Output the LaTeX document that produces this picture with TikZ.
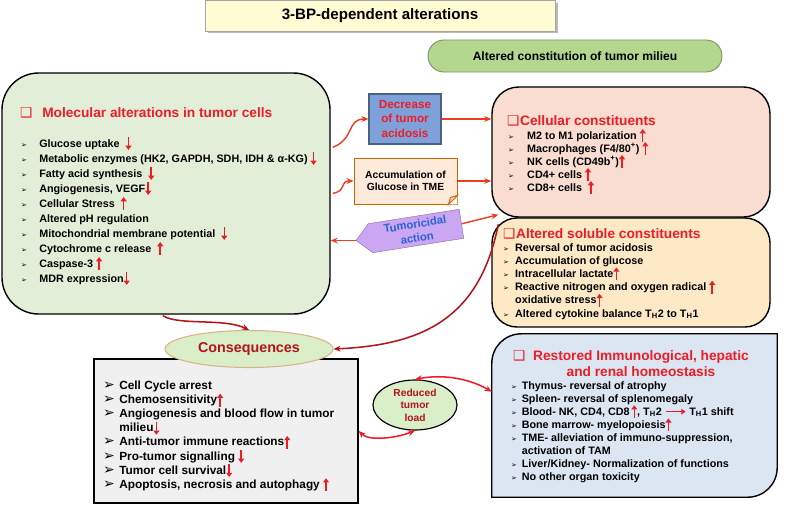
\documentclass[tikz,border=0pt]{standalone}
\usepackage{fontspec}
\setmainfont{Liberation Sans}
\newfontfamily\dejavu{DejaVu Sans}
\usetikzlibrary{arrows.meta,positioning,fit,calc,shapes.geometric,shapes.symbols}

\definecolor{molgreen}{HTML}{E3EED9}
\definecolor{cellpink}{HTML}{F9DDD0}
\definecolor{solyel}{HTML}{FDE9C6}
\definecolor{restblue}{HTML}{DCE6F2}
\definecolor{consgray}{HTML}{F0F0F0}
\definecolor{hdred}{HTML}{EE1C25}
\definecolor{darkred}{HTML}{B3131B}
\definecolor{orred}{HTML}{EA3F1F}
\definecolor{pillgreen}{HTML}{B4D78F}
\definecolor{ellgreen}{HTML}{DAEFC8}
\definecolor{decblue}{HTML}{7FA1D9}
\definecolor{accpeach}{HTML}{FDEADA}
\definecolor{tumpurple}{HTML}{CBA6F2}
\definecolor{tumblue}{HTML}{2A62D6}
\definecolor{titleyel}{HTML}{FFFBD2}

\tikzset{redarr/.style={draw=hdred,line width=1.3pt,-{Triangle[length=3.6pt,width=5pt]}}}
\newcommand{\uparr}{\tikz[baseline=0pt,x=1pt,y=1pt]\draw[redarr](0,-2.5)--(0,8.5);}
\newcommand{\dnarr}{\tikz[baseline=0pt,x=1pt,y=1pt]\draw[redarr](0,8.5)--(0,-2.5);}
\newcommand{\rtarr}{\tikz[baseline=0pt,x=1pt,y=1pt]\draw[redarr](0,3)--(17,3);}

\newlength\bltw
\newcommand\bltfont{\fontsize{6}{6}\selectfont}
\newcommand{\blt}{\makebox[\bltw][l]{\dejavu\bltfont ➢}}
\newcommand{\nob}{\hspace*{\bltw}}
\newcommand{\sqb}[1]{\makebox[#1][l]{\dejavu\color{hdred}❑}}

\begin{document}
\begin{tikzpicture}[x=0.03cm,y=-0.03cm,
  box/.style={draw,line width=1.2pt,inner sep=0pt},
  item/.style={anchor=base west,inner sep=0pt,font=\bfseries\fontsize{9.2}{11}\selectfont},
  head/.style={anchor=base west,inner sep=0pt,text=hdred,font=\bfseries\fontsize{11.7}{14}\selectfont},
  link/.style={orred,line width=1.2pt,-{Stealth[length=6pt,width=5pt]}},
  darklink/.style={darkred,line width=1.3pt,-{Stealth[length=6pt,width=5pt]}},
  bothlink/.style={hdred,line width=1.3pt,{Stealth[length=6pt,width=5pt]}-{Stealth[length=6pt,width=5pt]}}]
\useasboundingbox (0,0) rectangle (789,505);

% headings
\fill[gray!55] (208,3) rectangle (558,33);
\node[minimum width=10.5cm,minimum height=0.93cm,inner sep=0pt,draw=gray!70,fill=titleyel,line width=0.8pt,
  font=\bfseries\fontsize{12.9}{15}\selectfont] (title) at (380,15.5) {3-BP-dependent alterations};
\node[minimum width=8.82cm,minimum height=0.96cm,inner sep=0pt,draw=pillgreen!70!black,fill=pillgreen,
  rounded corners=0.48cm,line width=0.8pt,font=\bfseries\fontsize{10.3}{12}\selectfont] (milieu) at (575,56) {Altered constitution of tumor milieu};

% molecular alterations
\node[box,fit={(2,73) (330,314)},fill=molgreen,rounded corners=1.1cm] (mol) {};
\node[head] (molhd) at (20,117) {\sqb{18.8pt}Molecular alterations in tumor cells};
\setlength\bltw{15.4pt}
\foreach \txt [count=\i] in {{Glucose uptake \ \dnarr},
  {Metabolic enzymes (HK2, GAPDH, SDH, IDH \& α-KG) \dnarr},
  {Fatty acid synthesis \ \dnarr}, {Angiogenesis, VEGF\dnarr},
  {Cellular Stress \ \uparr}, {Altered pH regulation},
  {Mitochondrial membrane potential \ \dnarr}, {Cytochrome c release \ \uparr},
  {Caspase-3 \uparr}, {MDR expression\dnarr}}
  \node[item] (m\i) at (21,{132+15*\i}) {\blt\txt};

% middle boxes
\node[minimum width=2.16cm,minimum height=1.5cm,inner sep=0pt,draw=decblue!60!black,fill=decblue,line width=1pt,
  text=hdred,align=center,font=\bfseries\fontsize{10}{12}\selectfont] (dec) at (405,119) {Decrease\\of tumor\\acidosis};
\node[minimum width=3.09cm,minimum height=1.38cm,inner sep=0pt,draw=orange!80!black,fill=accpeach,line width=0.8pt,
  align=center,font=\bfseries\fontsize{8.8}{10.3}\selectfont] (acc) at (405.5,181) {Accumulation of\\Glucose in TME};
\fill[white] ($(acc.south east)+(0,-9)$) -- (acc.south east) -- ($(acc.south east)+(-9,0)$) -- cycle;
\draw[orange!80!black,fill=accpeach!80!brown,line width=0.8pt] ($(acc.south east)+(0,-9)$) -- ($(acc.south east)+(-9,0)$) -- ($(acc.south east)+(-7,-7)$) -- cycle;
\node[signal,signal to=west,rotate=9,draw=tumpurple!70!black,fill=tumpurple,minimum width=3.2cm,
  minimum height=0.88cm,inner sep=0pt,text=tumblue,align=center,
  font=\bfseries\fontsize{9.6}{12}\selectfont] (tum) at (416,231) {Tumoricidal\\action};

% cellular constituents
\node[box,fit={(492,87) (770,217)},fill=cellpink,rounded corners=0.8cm] (cell) {};
\node[head] (cellhd) at (507,125) {\sqb{11pt}Cellular constituents};
\setlength\bltw{16.2pt}
\foreach \txt [count=\i] in {{M2 to M1 polarization \uparr}, {Macrophages (F4/80\textsuperscript{+}) \uparr},
  {NK cells (CD49b\textsuperscript{+})\uparr}, {CD4+ cells \uparr}, {CD8+ cells \ \uparr}}
  \node[item] (c\i) at (508,{126+13*\i}) {\blt\txt};

% soluble constituents
\node[box,fit={(492,218) (770,327)},fill=solyel,rounded corners=0.75cm] (sol) {};
\node[head] (solhd) at (503,238) {\sqb{11pt}Altered soluble constituents};
\setlength\bltw{10.2pt}
\foreach \txt [count=\i] in {{\blt Reversal of tumor acidosis}, {\blt Accumulation of glucose},
  {\blt Intracellular lactate\uparr}, {\blt Reactive nitrogen and oxygen radical \uparr},
  {\nob oxidative stress\uparr}, {\blt Altered cytokine balance T\textsubscript{H}2 to T\textsubscript{H}1}}
  \node[item] (s\i) at (503,{237.8+13.2*\i}) {\txt};

% restored homeostasis
\node[fit={(492,334) (777,497)},inner sep=0pt] (rest) {};
\draw[box,fill=restblue] (rest.south west) -- ($(rest.north west)+(0,30)$) .. controls +(0,-17) and +(-17,0) .. ($(rest.north west)+(30,0)$)
  -- (rest.north east) -- ($(rest.south east)+(0,-30)$) .. controls +(0,17) and +(17,0) .. ($(rest.south east)+(-30,0)$) -- cycle;
\node[head] (resthd) at (513,360) {\sqb{17pt}Restored Immunological, hepatic};
\node[head,anchor=base] (resthdb) at (641,376) {and renal homeostasis};
\setlength\bltw{9pt}
\foreach \txt [count=\i] in {{\blt Thymus- reversal of atrophy}, {\blt Spleen- reversal of splenomegaly},
  {\blt Blood- NK, CD4, CD8\,\uparr, T\textsubscript{H}2 \rtarr\ T\textsubscript{H}1 shift},
  {\blt Bone marrow- myelopoiesis\uparr}, {\blt TME- alleviation of immuno-suppression,},
  {\nob activation of TAM}, {\blt Liver/Kidney- Normalization of functions}, {\blt No other organ toxicity}}
  \node[item] (r\i) at (511,{375.9+13.1*\i}) {\txt};

% consequences
\node[box,fit={(94,359) (358,503)},fill=consgray] (consbox) {};
\renewcommand\bltfont{\fontsize{12}{12}\selectfont}
\setlength\bltw{13.7pt}
\foreach \txt [count=\i] in {{\blt Cell Cycle arrest}, {\blt Chemosensitivity\uparr},
  {\blt Angiogenesis and blood flow in tumor}, {\nob milieu\dnarr},
  {\blt Anti-tumor immune reactions\uparr}, {\blt Pro-tumor signalling \dnarr},
  {\blt Tumor cell survival\dnarr}, {\blt Apoptosis, necrosis and autophagy \uparr}}
  \node[item,font=\bfseries\fontsize{10.1}{12}\selectfont] (q\i) at (103,{375.4+14.1*\i}) {\txt};
\node[ellipse,draw=brown!60,line width=0.9pt,fill=ellgreen,minimum width=5.04cm,minimum height=1.11cm,inner sep=0pt,
  text=darkred,font=\bfseries\fontsize{12.2}{14}\selectfont] (cons) at (249,349) {Consequences};
\node[ellipse,draw,line width=1pt,fill=ellgreen,minimum width=2.52cm,minimum height=1.5cm,inner sep=0pt,
  text=darkred,align=center,font=\bfseries\fontsize{8.7}{10.7}\selectfont] (load) at (415,405) {Reduced\\tumor\\load};

% connectors
\draw[link] ($(mol.north east)+(2,75)$) .. controls +(22,-8) and +(-22,0) .. (dec.west);
\draw[link] ($(mol.north east)+(2,121)$) .. controls +(14,-2) and +(-14,0) .. (acc.west);
\draw[link] (dec.east) -- (dec.east -| cell.west);
\draw[link] (acc.east) -- (acc.east -| cell.west);
\draw[link] (tum.west) -- (tum.west -| mol.east);
\draw[link] (tum.east) -- ($(cell.south west)+(7,-3)$);
\draw[darklink] ($(mol.south)+(-3,1)$) .. controls +(15,10) and +(-25,-12) .. (cons.north);
\draw[darklink] ($(sol.north west)+(7,7)$) .. controls +(-19,96) and +(87,-4) .. (cons.east);
\draw[bothlink] (consbox.east) .. controls +(10,10) and +(-20,8) .. (load.south);
\draw[bothlink] (load.north) .. controls +(30,-6) and +(-20,-12) .. ($(rest.north west)+(0,58)$);
\end{tikzpicture}
\end{document}
